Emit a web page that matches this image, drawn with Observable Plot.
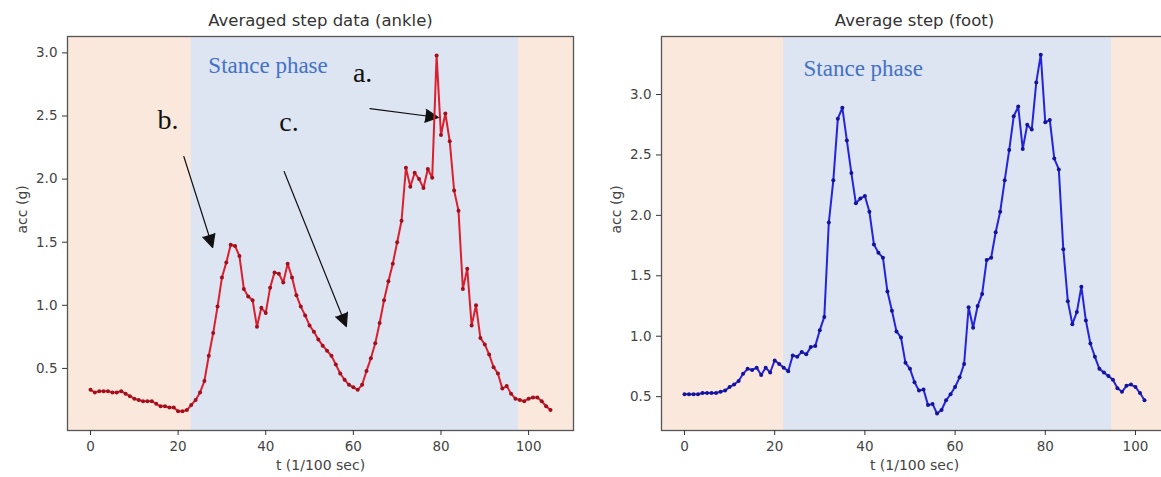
<!DOCTYPE html>
<html><head><meta charset="utf-8">
<script src="https://cdn.jsdelivr.net/npm/d3@7"></script>
<script src="https://cdn.jsdelivr.net/npm/@observablehq/plot@0.6"></script>
<style>
html,body{margin:0;padding:0;background:#fff;}
body{width:1161px;height:477px;overflow:hidden;position:relative;}
.panel{position:absolute;top:0;}
.panel svg{max-width:none;overflow:visible;}
</style></head><body>
<div id="left" class="panel" style="left:0px"></div>
<div id="right" class="panel" style="left:590px"></div>
<script>
// ---------- data ----------
const ankleAcc = [0.33,0.31,0.32,0.32,0.32,0.31,0.31,0.32,0.30,0.28,
  0.26,0.25,0.24,0.24,0.24,0.22,0.20,0.20,0.19,0.19,
  0.16,0.16,0.17,0.21,0.25,0.31,0.40,0.60,0.78,0.99,
  1.22,1.34,1.48,1.47,1.39,1.13,1.07,1.04,0.83,0.98,
  0.94,1.14,1.26,1.25,1.18,1.33,1.22,1.08,0.99,0.92,
  0.84,0.79,0.73,0.68,0.64,0.60,0.53,0.46,0.41,0.37,
  0.35,0.33,0.37,0.48,0.58,0.70,0.86,1.04,1.19,1.33,
  1.50,1.67,2.09,1.94,2.05,2.00,1.93,2.08,2.01,2.98,
  2.35,2.52,2.30,1.91,1.75,1.13,1.29,0.84,1.00,0.74,
  0.69,0.61,0.51,0.46,0.34,0.36,0.30,0.26,0.25,0.24,
  0.26,0.27,0.27,0.24,0.20,0.17];
const footAcc = [0.52,0.52,0.52,0.52,0.53,0.53,0.53,0.53,0.54,0.55,
  0.58,0.60,0.63,0.69,0.73,0.72,0.74,0.68,0.74,0.70,
  0.80,0.77,0.74,0.71,0.84,0.83,0.87,0.85,0.91,0.92,
  1.05,1.16,1.94,2.29,2.80,2.89,2.62,2.35,2.10,2.14,
  2.16,2.03,1.76,1.69,1.65,1.37,1.21,1.04,0.99,0.78,
  0.73,0.62,0.55,0.56,0.43,0.44,0.36,0.39,0.47,0.52,
  0.58,0.66,0.77,1.24,1.07,1.25,1.35,1.63,1.65,1.86,
  2.03,2.29,2.54,2.82,2.90,2.55,2.75,2.71,3.10,3.33,
  2.77,2.79,2.47,2.38,1.72,1.29,1.10,1.20,1.41,1.13,
  0.94,0.83,0.73,0.70,0.67,0.64,0.57,0.54,0.59,0.60,
  0.58,0.53,0.47];
const xTicks = [0, 20, 40, 60, 80, 100];
const yTicks = [0.5, 1.0, 1.5, 2.0, 2.5, 3.0];
const titles = ["Averaged step data (ankle)", "Average step (foot)"];
const xLabel = "t (1/100 sec)";
const yLabel = "acc (g)";
const stanceLabel = "Stance phase";
const ankleStance = [23, 97.7];
const footStance = [22, 94.7];
const ankleStanceLabelPos = [26.9, 2.842];
const footStanceLabelPos = [26.4, 3.157];
const letterLabels = ["a.", "b.", "c."];
const letterPos = [[59.9, 2.768], [15.3, 2.399], [43.1, 2.385]];
const arrowFrom = [[63.8, 2.559], [21.3, 2.179], [44.2, 2.060]];
const arrowTo = [[79.4, 2.488], [27.9, 1.458], [58.4, 0.832]];

// ---------- styles ----------
const peach = "#fbe8dc";
const band = "#dde4f2";
const stanceColor = "#4472c4";

function panel({acc, title, stance, stancePos, xDomain, yDomain, width, marginLeft, marginRight, lineColor, dotColor, extra}) {
  const data = acc.map((v, i) => ({t: i, acc: v}));
  return Plot.plot({
    width, height: 477,
    marginLeft, marginRight, marginTop: 36, marginBottom: 47,
    style: {fontFamily: "DejaVu Sans", fontSize: "13.5px", color: "#333", background: "transparent"},
    x: {domain: xDomain},
    y: {domain: yDomain},
    marks: [
      Plot.frame({fill: peach}),
      Plot.rect([{a: stance[0], b: stance[1]}], {x1: "a", x2: "b", fill: band}),
      Plot.text([stanceLabel], {x: stancePos[0], y: stancePos[1], textAnchor: "start", lineAnchor: "bottom",
        fill: stanceColor, fontFamily: "Liberation Serif", fontSize: 23}),
      ...(extra || []),
      Plot.line(data, {x: "t", y: "acc", stroke: lineColor, strokeWidth: 2}),
      Plot.dot(data, {x: "t", y: "acc", r: 2, fill: dotColor, stroke: "none"}),
      Plot.frame({stroke: "#555", strokeWidth: 1.3}),
      Plot.axisX({ticks: xTicks, tickSize: 5, tickPadding: 6, label: null, fill: "#444"}),
      Plot.axisY({ticks: yTicks, tickSize: 5, tickPadding: 5, label: null, tickFormat: d => d.toFixed(1), fill: "#444"}),
      Plot.text([title], {frameAnchor: "top", lineAnchor: "bottom", dy: -11, fontSize: 16.5, fill: "#333"}),
      Plot.text([xLabel], {frameAnchor: "bottom", lineAnchor: "bottom", dy: 39, fontSize: 14, fill: "#444"}),
      Plot.text([yLabel], {frameAnchor: "left", dx: -45, rotate: -90, fontSize: 14, fill: "#444"})
    ]
  });
}

const arrows = arrowFrom.map((f, i) => ({x1: f[0], y1: f[1], x2: arrowTo[i][0], y2: arrowTo[i][1]}));
const letters = letterLabels.map((s, i) => ({s, x: letterPos[i][0], y: letterPos[i][1]}));

const left = panel({
  acc: ankleAcc, title: titles[0], stance: ankleStance, stancePos: ankleStanceLabelPos,
  xDomain: [-5.25, 110.25], yDomain: [0.008, 3.13], width: 590, marginLeft: 67, marginRight: 17,
  lineColor: "#dc1f2c", dotColor: "#a0101c",
  extra: [
    Plot.text(letters, {x: "x", y: "y", text: "s", textAnchor: "start", lineAnchor: "bottom",
      fontFamily: "Liberation Serif", fontSize: 28, fill: "#111"}),
    Plot.arrow(arrows, {x1: "x1", y1: "y1", x2: "x2", y2: "y2", stroke: "#111", fill: "#111",
      strokeWidth: 1.2, headLength: 18, headAngle: 52})
  ]
});
const right = panel({
  acc: footAcc, title: titles[1], stance: footStance, stancePos: footStanceLabelPos,
  xDomain: [-5.1, 107.1], yDomain: [0.22, 3.48], width: 577, marginLeft: 71, marginRight: 0,
  lineColor: "#2424dc", dotColor: "#14149a"
});
document.getElementById("left").append(left);
document.getElementById("right").append(right);
</script>
</body></html>
